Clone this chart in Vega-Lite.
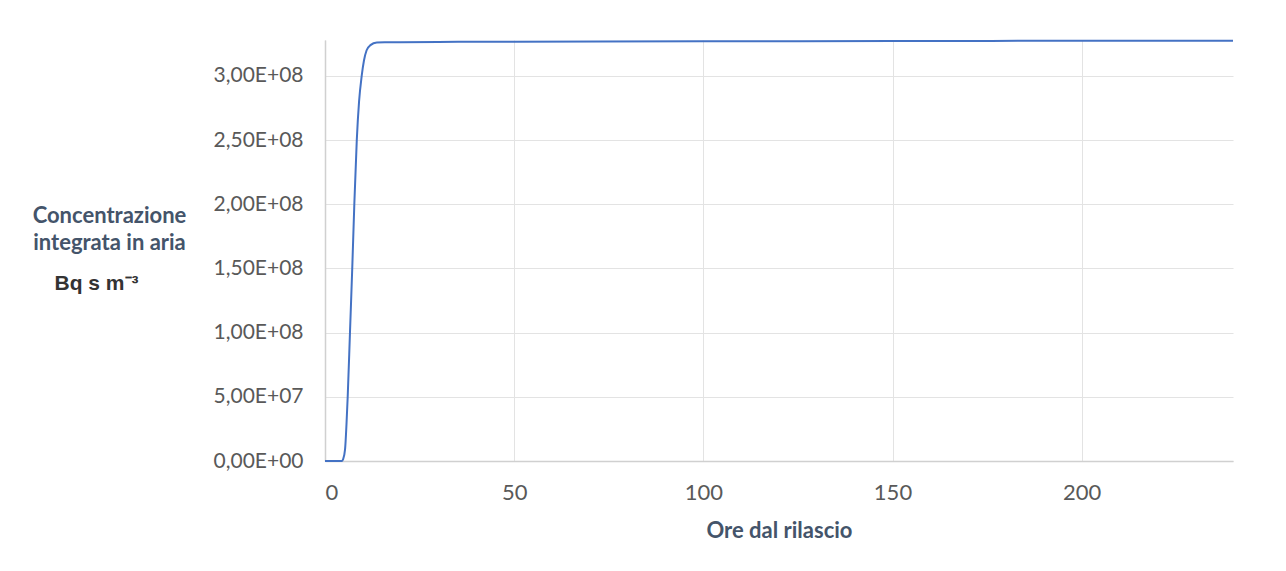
{
  "$schema": "https://vega.github.io/schema/vega-lite/v6.json",
  "autosize": {"type": "none"},
  "width": 908,
  "height": 421,
  "padding": {"left": 325, "top": 40, "right": 53, "bottom": 110},
  "background": "#ffffff",
  "config": {"view": {"stroke": null}, "font": "Lato"},
  "data": {
    "values": [
      {"ore": 0, "conc": 0},
      {"ore": 2, "conc": 0},
      {"ore": 4, "conc": 0},
      {"ore": 4.4, "conc": 0},
      {"ore": 4.8, "conc": 1500000},
      {"ore": 5.3, "conc": 9000000},
      {"ore": 5.7, "conc": 30000000},
      {"ore": 6.0, "conc": 50000000},
      {"ore": 6.6, "conc": 100000000},
      {"ore": 7.2, "conc": 150000000},
      {"ore": 7.75, "conc": 200000000},
      {"ore": 8.4, "conc": 250000000},
      {"ore": 9.0, "conc": 280000000},
      {"ore": 9.7, "conc": 300000000},
      {"ore": 10.3, "conc": 312000000},
      {"ore": 11.0, "conc": 320000000},
      {"ore": 12.0, "conc": 324000000},
      {"ore": 13.7, "conc": 326000000},
      {"ore": 16, "conc": 326200000},
      {"ore": 20, "conc": 326300000},
      {"ore": 30, "conc": 326500000},
      {"ore": 50, "conc": 326700000},
      {"ore": 100, "conc": 327000000},
      {"ore": 150, "conc": 327200000},
      {"ore": 200, "conc": 327400000},
      {"ore": 240, "conc": 327500000}
    ]
  },
  "encoding": {
    "x": {
      "field": "ore",
      "type": "quantitative",
      "scale": {"domain": [0, 240], "nice": false, "zero": true},
      "axis": {
        "title": "Ore dal rilascio",
        "values": [0, 50, 100, 150, 200],
        "ticks": false,
        "domainColor": "#d0d0d0",
        "domainWidth": 1.5,
        "gridColor": "#e3e3e3",
        "gridWidth": 1,
        "labelFont": "Lato",
        "labelFontSize": 22,
        "labelColor": "#595959",
        "labelPadding": 21,
        "titleFont": "Lato",
        "titleFontSize": 22,
        "titleFontWeight": "bold",
        "titleColor": "#44546a",
        "titlePadding": 17
      }
    }
  },
  "layer": [
    {
      "mark": {"type": "line", "color": "#4472c4", "strokeWidth": 2, "interpolate": "monotone"},
      "encoding": {
        "y": {
          "field": "conc",
          "type": "quantitative",
          "scale": {"domain": [0, 328000000], "nice": false},
          "axis": {
            "orient": "left",
            "title": ["Concentrazione", "integrata in aria"],
            "titleAngle": 0,
            "titleX": -216,
            "titleY": 175,
            "titleAlign": "center",
            "titleBaseline": "middle",
            "titleLineHeight": 27,
            "titleFont": "Lato",
            "titleFontSize": 22,
            "titleFontWeight": "bold",
            "titleColor": "#44546a",
            "values": [0, 50000000, 100000000, 150000000, 200000000, 250000000, 300000000],
            "labelExpr": "replace(replace(format(datum.value, '.2e'), '.', ','), 'e+', 'E+0')",
            "ticks": false,
            "grid": true,
            "domainColor": "#d0d0d0",
            "domainWidth": 1.5,
            "gridColor": "#e3e3e3",
            "gridWidth": 1,
            "labelFont": "Lato",
            "labelFontSize": 21,
            "labelColor": "#595959",
            "labelPadding": 22
          }
        }
      }
    },
    {
      "mark": {"type": "line", "strokeOpacity": 0},
      "encoding": {
        "y": {
          "field": "conc",
          "type": "quantitative",
          "scale": {"domain": [0, 328000000], "nice": false},
          "axis": {
            "orient": "left",
            "title": "Bq s m⁻³",
            "titleAngle": 0,
            "titleX": -229,
            "titleY": 243,
            "titleAlign": "center",
            "titleBaseline": "middle",
            "titleFont": "Liberation Sans",
            "titleFontSize": 21,
            "titleFontWeight": "bold",
            "titleColor": "#333333",
            "labels": false,
            "ticks": false,
            "domain": false,
            "grid": false
          }
        }
      }
    }
  ],
  "resolve": {"axis": {"y": "independent"}}
}
